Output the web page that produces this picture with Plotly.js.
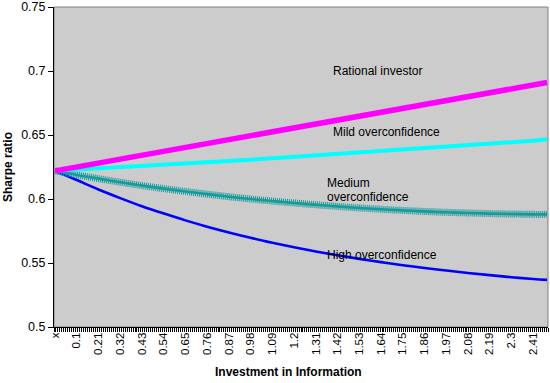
<!DOCTYPE html>
<html>
<head>
<meta charset="utf-8">
<script src="https://cdn.plot.ly/plotly-3.0.1.min.js"></script>
<style>
  html, body { margin: 0; padding: 0; background: #ffffff; }
  #chart { width: 550px; height: 383px; }
</style>
</head>
<body>
<div id="chart"></div>
<script>
// Category positions (investment in information); "x" is the first category
const investment = [-0.01, 0.10, 0.21, 0.32, 0.43, 0.54, 0.65, 0.76, 0.87, 0.98, 1.09, 1.20,
  1.31, 1.42, 1.53, 1.64, 1.75, 1.86, 1.97, 2.08, 2.19, 2.30, 2.41, 2.48];

const tickVals = [-0.01, 0.10, 0.21, 0.32, 0.43, 0.54, 0.65, 0.76, 0.87, 0.98, 1.09, 1.20,
  1.31, 1.42, 1.53, 1.64, 1.75, 1.86, 1.97, 2.08, 2.19, 2.30, 2.41];
const tickLabels = ["x", "0.1", "0.21", "0.32", "0.43", "0.54", "0.65", "0.76", "0.87", "0.98",
  "1.09", "1.2", "1.31", "1.42", "1.53", "1.64", "1.75", "1.86", "1.97", "2.08", "2.19", "2.3", "2.41"];

const rational = [0.622, 0.6250, 0.6281, 0.6311, 0.6342, 0.6372, 0.6403, 0.6433, 0.6464, 0.6494,
  0.6525, 0.6555, 0.6586, 0.6616, 0.6647, 0.6677, 0.6708, 0.6738, 0.6769, 0.6799, 0.6830,
  0.6860, 0.6890, 0.6910];

const mild = [0.622, 0.6229, 0.6238, 0.6247, 0.6256, 0.6266, 0.6276, 0.6286, 0.6296, 0.6307,
  0.6318, 0.6329, 0.6340, 0.6351, 0.6362, 0.6374, 0.6385, 0.6396, 0.6408, 0.6419, 0.6431,
  0.6443, 0.6455, 0.6466];

const medium = [0.622, 0.6188, 0.6159, 0.6131, 0.6105, 0.6081, 0.6059, 0.6038, 0.6018, 0.6000,
  0.5984, 0.5969, 0.5955, 0.5942, 0.5930, 0.5920, 0.5911, 0.5903, 0.5896, 0.5891, 0.5886,
  0.5883, 0.5880, 0.5880];

const high = [0.622, 0.6148, 0.6074, 0.6007, 0.5944, 0.5887, 0.5833, 0.5784, 0.5739, 0.5697,
  0.5659, 0.5623, 0.5590, 0.5560, 0.5532, 0.5507, 0.5483, 0.5461, 0.5441, 0.5422, 0.5405,
  0.5389, 0.5375, 0.5368];

const seriesNames = ["Rational investor", "Mild overconfidence", "Medium overconfidence", "High overconfidence"];

const FONT = "Liberation Sans, Arial, sans-serif";

const traces = [
  { x: investment, y: high, type: "scatter", mode: "lines", name: seriesNames[3],
    line: { color: "#0000ff", width: 2.6, shape: "spline", smoothing: 1 }, hoverinfo: "skip" },
  { x: investment, y: medium, type: "scatter", mode: "lines", name: seriesNames[2],
    line: { color: "#149b9b", width: 7, dash: "1px,1px", shape: "spline", smoothing: 1 }, hoverinfo: "skip" },
  { x: investment, y: medium, type: "scatter", mode: "lines", name: seriesNames[2],
    line: { color: "#149b9b", width: 2.6, shape: "spline", smoothing: 1 }, hoverinfo: "skip" },
  { x: investment, y: mild, type: "scatter", mode: "lines", name: seriesNames[1],
    line: { color: "#00ffff", width: 4 }, hoverinfo: "skip" },
  { x: investment, y: rational, type: "scatter", mode: "lines", name: seriesNames[0],
    line: { color: "#ff00ff", width: 5.5 }, hoverinfo: "skip" }
];

const layout = {
  width: 550, height: 383,
  margin: { l: 54, r: 2, t: 7, b: 56, pad: 0 },
  paper_bgcolor: "#ffffff",
  plot_bgcolor: "#cccccc",
  showlegend: false,
  font: { family: FONT, color: "#000000", size: 12 },
  xaxis: {
    type: "linear",
    range: [-0.015, 2.485],
    tickmode: "array",
    tickvals: tickVals,
    ticktext: tickLabels,
    tickangle: -90,
    ticks: "",
    tickfont: { family: FONT, size: 11.5, color: "#000000" },
    showgrid: false, zeroline: false,
    showline: true, linecolor: "#000000", linewidth: 1,
    minor: { tickmode: "linear", tick0: -0.015, dtick: 0.01, ticks: "outside", ticklen: 4,
             tickcolor: "#000000", tickwidth: 1, showgrid: false },
    fixedrange: true
  },
  yaxis: {
    range: [0.5, 0.75],
    tickmode: "array",
    tickvals: [0.5, 0.55, 0.6, 0.65, 0.7, 0.75],
    ticktext: ["0.5", "0.55", "0.6", "0.65", "0.7", "0.75"],
    ticks: "outside", ticklen: 5, tickcolor: "#000000", tickwidth: 1,
    tickfont: { family: FONT, size: 12.5, color: "#000000" },
    showgrid: false, zeroline: false,
    showline: true, linecolor: "#000000", linewidth: 1,
    fixedrange: true
  },
  shapes: [
    { type: "rect", xref: "paper", yref: "paper", x0: 0, x1: 1, y0: 0, y1: 1,
      line: { color: "#808080", width: 1 }, layer: "below" }
  ],
  annotations: [
    { text: seriesNames[0], xref: "paper", yref: "paper", x: 0.560, y: 0.801,
      xanchor: "left", yanchor: "middle", showarrow: false, font: { family: FONT, size: 12 } },
    { text: seriesNames[1], xref: "paper", yref: "paper", x: 0.560, y: 0.610,
      xanchor: "left", yanchor: "middle", showarrow: false, font: { family: FONT, size: 12 } },
    { text: "Medium", xref: "paper", yref: "paper", x: 0.549, y: 0.451,
      xanchor: "left", yanchor: "middle", showarrow: false, font: { family: FONT, size: 12 } },
    { text: "overconfidence", xref: "paper", yref: "paper", x: 0.549, y: 0.405,
      xanchor: "left", yanchor: "middle", showarrow: false, font: { family: FONT, size: 12 } },
    { text: seriesNames[3], xref: "paper", yref: "paper", x: 0.549, y: 0.225,
      xanchor: "left", yanchor: "middle", showarrow: false, font: { family: FONT, size: 12 } },
    { text: "<b>Investment in Information</b>", xref: "paper", yref: "paper", x: 0.4757, y: -0.1406,
      xanchor: "center", yanchor: "middle", showarrow: false, font: { family: FONT, size: 12 } },
    { text: "<b>Sharpe ratio</b>", xref: "paper", yref: "paper", x: -0.0931, y: 0.5,
      xanchor: "center", yanchor: "middle", textangle: -90, showarrow: false, font: { family: FONT, size: 12 } }
  ]
};

Plotly.newPlot("chart", traces, layout, { staticPlot: true, displayModeBar: false });
</script>
</body>
</html>
